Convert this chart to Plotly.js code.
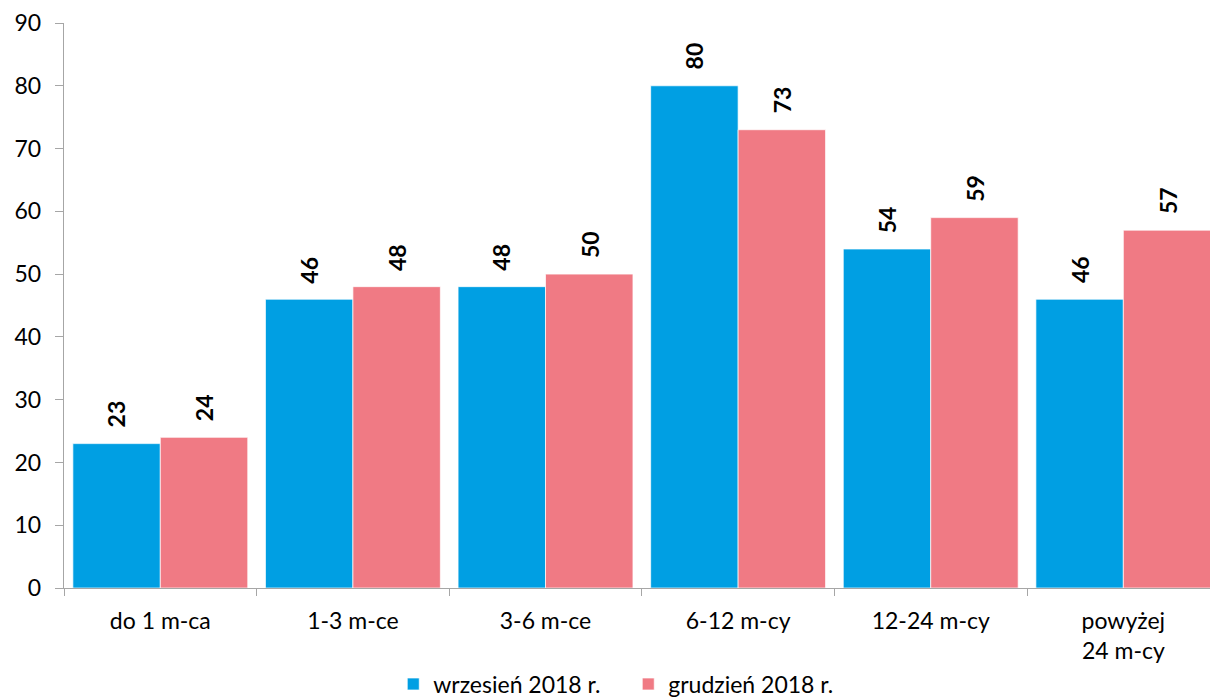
<!DOCTYPE html>
<html>
<head>
<meta charset="utf-8">
<script src="https://cdn.plot.ly/plotly-3.0.1.min.js"></script>
<style>html,body{margin:0;padding:0;background:#fff;}#chart{width:1210px;height:698px;}</style>
</head>
<body>
<div id="chart"></div>
<script>
var categories = ["do 1 m-ca", "1-3 m-ce", "3-6 m-ce", "6-12 m-cy", "12-24 m-cy", "powyżej<br>24 m-cy"];
var seriesNames = ["wrzesień 2018 r.", "grudzień 2018 r."];
var wrzesien = [23, 46, 48, 80, 54, 46];
var grudzien = [24, 48, 50, 73, 59, 57];
var colors = ["#009FE3", "#F07A84"];

var FONT = "Lato, 'Open Sans', sans-serif";
var seriesValues = [wrzesien, grudzien];

var traces = seriesValues.map(function (vals, i) {
  return {
    type: "bar",
    name: seriesNames[i],
    x: categories,
    y: vals,
    marker: {color: colors[i], line: {color: "rgba(255,255,255,0.7)", width: 1}},
    hoverinfo: "none"
  };
});

var annotations = [];
seriesValues.forEach(function (vals, i) {
  vals.forEach(function (v, j) {
    annotations.push({
      x: categories[j], y: v, xref: "x", yref: "y",
      text: String(v), showarrow: false, textangle: -90,
      yanchor: "bottom", xanchor: "center",
      xshift: i === 0 ? -44 : 44, yshift: 14,
      font: {family: FONT, size: 23, color: "#000", weight: "bold"}
    });
  });
});

var layout = {
  width: 1210, height: 698,
  margin: {l: 64, r: 0, t: 23, b: 110},
  paper_bgcolor: "#fff", plot_bgcolor: "#fff",
  barmode: "group", bargap: 0.092, bargroupgap: 0,
  font: {family: FONT, size: 23, color: "#000"},
  showlegend: true,
  legend: {orientation: "h", x: 0.325, xref: "container", xanchor: "left",
           y: 0.02, yref: "container", yanchor: "middle",
           entrywidth: 190, entrywidthmode: "pixels",
           font: {family: FONT, size: 23, color: "#000"}, itemclick: false},
  xaxis: {
    type: "category", range: [-0.5, 5.45], showgrid: false, zeroline: false,
    showline: true, linecolor: "#A6A6A6", linewidth: 1.3,
    ticks: "outside", tickson: "boundaries", ticklen: 7, tickcolor: "#A6A6A6",
    tickfont: {family: FONT, size: 23, color: "#000"}, ticklabelstandoff: 12
  },
  yaxis: {
    range: [0, 90], dtick: 10, showgrid: false, zeroline: false,
    showline: true, linecolor: "#A6A6A6", linewidth: 1.3,
    ticks: "outside", ticklen: 8, tickcolor: "#A6A6A6",
    tickfont: {family: FONT, size: 23, color: "#000"}, ticklabelstandoff: 9
  },
  annotations: annotations
};

Plotly.newPlot("chart", traces, layout, {displayModeBar: false, staticPlot: true});
</script>
</body>
</html>
